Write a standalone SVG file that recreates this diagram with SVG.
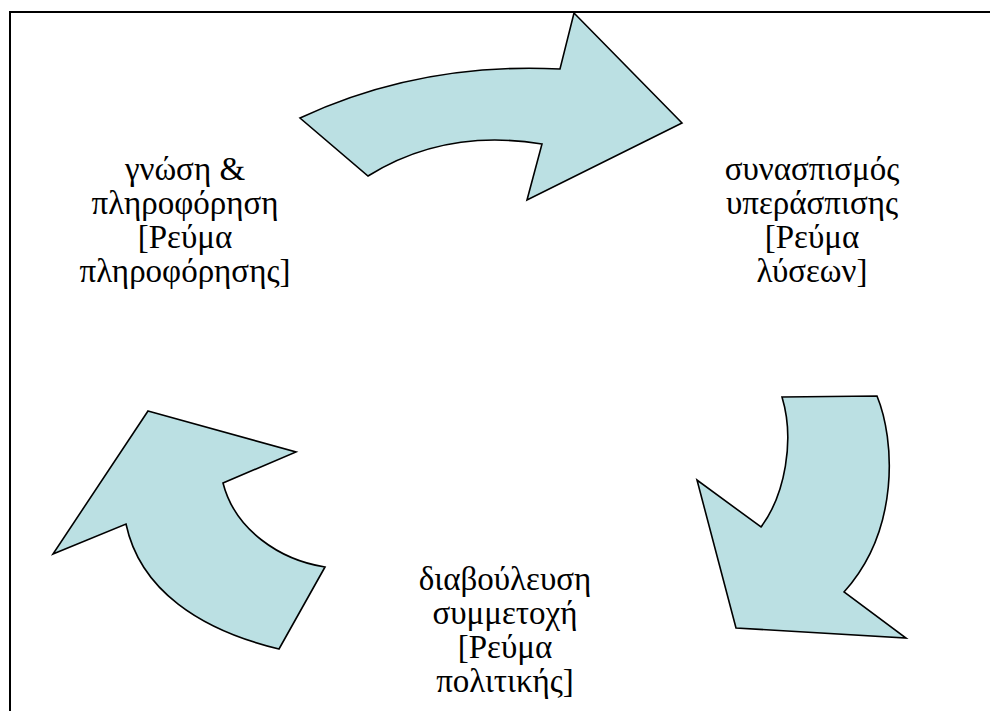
<svg xmlns="http://www.w3.org/2000/svg" width="990" height="711" viewBox="0 0 990 711">
<style>
.arrow{fill:#BBE0E3;stroke:#000;stroke-width:1.6;stroke-linejoin:miter}
.frame{fill:none;stroke:#000;stroke-width:2}
text{font-family:'Liberation Serif','Times New Roman',serif;font-size:33px;fill:#000;text-anchor:middle}
</style>
<rect width="990" height="711" fill="#fff"/>
<path class="frame" d="M10,711 V12 H990"/>
<g id="connectors">
<path id="arrow-top" class="arrow" d="M300,118 Q420,62 560,69 L574,13 L682,123 L527,200 L542,144 Q445,128 368,176 Z"/>
<path id="arrow-right" class="arrow" d="M782,397 L877,396 C895,440 900,530 844,592 L906,638 L736,628 L697,480 L761,527 C785,495 795,440 782,397 Z"/>
<path id="arrow-left" class="arrow" d="M148,411 L296,452 L223,483 C235,530 280,560 325,567 L279,649 C200,630 140,590 126,524 L53,554 Z"/>
</g>
<g id="node-knowledge">
<text x="185" y="180">γνώση &amp;</text>
<text x="185" y="214">πληροφόρηση</text>
<text x="185" y="248">[Ρεύμα</text>
<text x="185" y="282">πληροφόρησης]</text>
</g>
<g id="node-coalition">
<text x="812" y="180">συνασπισμός</text>
<text x="812" y="214">υπεράσπισης</text>
<text x="812" y="248">[Ρεύμα</text>
<text x="812" y="282">λύσεων]</text>
</g>
<g id="node-consultation">
<text x="505" y="590">διαβούλευση</text>
<text x="505" y="624">συμμετοχή</text>
<text x="505" y="658">[Ρεύμα</text>
<text x="505" y="692">πολιτικής]</text>
</g>
</svg>
